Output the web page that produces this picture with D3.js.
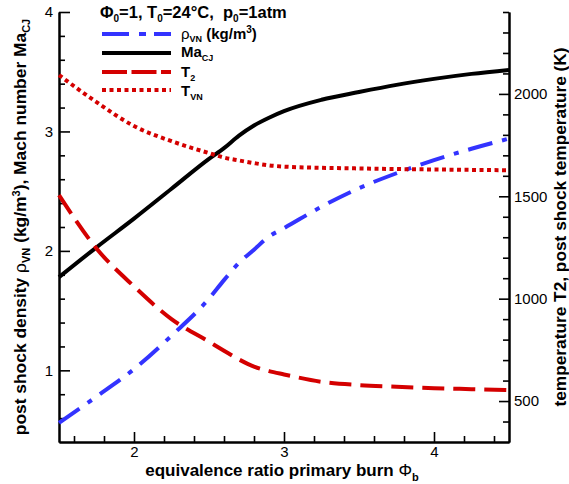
<!DOCTYPE html>
<html>
<head>
<meta charset="utf-8">
<script src="https://cdn.jsdelivr.net/npm/d3@7"></script>
<style>
  body { margin: 0; background: #fff; }
  svg { display: block; }
  text { font-family: "Liberation Sans", Arial, sans-serif; }
</style>
</head>
<body>
<svg id="chart" width="569" height="484"></svg>
<script>
// ---- data ----
const phi   = [1.5, 1.75, 2.0, 2.25, 2.5, 2.6, 2.7, 2.8, 2.9, 3.0, 3.25, 3.5, 3.75, 4.0, 4.25, 4.5];
const maCJ  = [1.78, 2.03, 2.27, 2.52, 2.77, 2.86, 2.965, 3.05, 3.115, 3.17, 3.265, 3.33, 3.39, 3.44, 3.482, 3.515];
const rhoVN = [0.56, 0.78, 1.01, 1.29, 1.60, 1.755, 1.90, 2.01, 2.12, 2.19, 2.37, 2.525, 2.65, 2.76, 2.855, 2.94];
const T2    = [1506, 1245, 1060, 900, 790, 746, 703, 668, 646, 630, 594, 578, 570, 563, 558, 553];
const TVN   = [2092, 1960, 1843, 1769, 1711, 1689, 1675, 1662, 1651, 1645, 1639, 1636, 1633, 1631, 1629, 1627];

const xMajor = [2, 3, 4];
const xMinor = [1.6, 1.8, 2.2, 2.4, 2.6, 2.8, 3.2, 3.4, 3.6, 3.8, 4.2, 4.4];
const yLMajor = [1, 2, 3, 4];
const yLMinor = [0.6, 0.8, 1.2, 1.4, 1.6, 1.8, 2.2, 2.4, 2.6, 2.8, 3.2, 3.4, 3.6, 3.8];
const yRMajor = [500, 1000, 1500, 2000];
const yRMinor = [400, 600, 700, 800, 900, 1100, 1200, 1300, 1400, 1600, 1700, 1800, 1900, 2100, 2200, 2300, 2400];

// ---- layout ----
const L = 59, R = 509, T = 12, B = 442;
const x  = d3.scaleLinear().domain([1.5, 4.5]).range([L, R]);
const yL = d3.scaleLinear().domain([0.4, 4]).range([B, T]);
const yR = d3.scaleLinear().domain([300, 2400]).range([B, T]);

const svg = d3.select("#chart");
const RED = "#d40000", BLUE = "#3333ff";

function styleAxis(g) {
  g.selectAll("path.domain").attr("stroke", "#000").attr("stroke-width", 2);
  g.selectAll(".tick line").attr("stroke", "#000").attr("stroke-width", 1.6);
  g.selectAll(".tick text").attr("fill", "#000").style("font-size", "15px")
    .style("font-family", "'Liberation Sans', Arial, sans-serif");
}

// bottom axis
svg.append("g").attr("transform", `translate(0,${B})`)
  .call(d3.axisBottom(x).tickValues(xMinor).tickSizeInner(-6).tickSizeOuter(0).tickFormat(""))
  .call(styleAxis);
svg.append("g").attr("transform", `translate(0,${B})`)
  .call(d3.axisBottom(x).tickValues(xMajor).tickSizeInner(-10).tickSizeOuter(0).tickPadding(4).tickFormat(d3.format("d")))
  .call(styleAxis);

// left axis
svg.append("g").attr("transform", `translate(${L},0)`)
  .call(d3.axisLeft(yL).tickValues(yLMinor).tickSizeInner(-6).tickSizeOuter(0).tickFormat(""))
  .call(styleAxis);
svg.append("g").attr("transform", `translate(${L},0)`)
  .call(d3.axisLeft(yL).tickValues(yLMajor).tickSizeInner(-11).tickSizeOuter(0).tickPadding(6).tickFormat(d3.format("d")))
  .call(styleAxis);

// right axis
svg.append("g").attr("transform", `translate(${R},0)`)
  .call(d3.axisRight(yR).tickValues(yRMinor).tickSizeInner(-6).tickSizeOuter(0).tickFormat(""))
  .call(styleAxis);
svg.append("g").attr("transform", `translate(${R},0)`)
  .call(d3.axisRight(yR).tickValues(yRMajor).tickSizeInner(-10).tickSizeOuter(0).tickPadding(5).tickFormat(d3.format("d")))
  .call(styleAxis);

// ---- lines ----
const series = [
  { vals: rhoVN, y: yL, color: BLUE,  dash: "25,10,5,10", width: 4 },
  { vals: maCJ,  y: yL, color: "#000", dash: null,        width: 4 },
  { vals: T2,    y: yR, color: RED,   dash: "22,9",       width: 4 },
  { vals: TVN,   y: yR, color: RED,   dash: "4,3.5",      width: 4 }
];
const plot = svg.append("g");
series.forEach(s => {
  const line = d3.line().x((d, i) => x(phi[i])).y(d => s.y(d)).curve(d3.curveMonotoneX);
  plot.append("path").datum(s.vals)
    .attr("d", line).attr("fill", "none")
    .attr("stroke", s.color).attr("stroke-width", s.width)
    .attr("stroke-dasharray", s.dash);
});

// ---- legend ----
const leg = svg.append("g").style("font-weight", "bold").style("font-size", "15px");
const hdr = leg.append("text").attr("x", 100).attr("y", 18)
  .style("font-size", "16.5px").style("white-space", "pre").attr("xml:space", "preserve");
hdr.append("tspan").text("Φ");
hdr.append("tspan").attr("dy", 4).style("font-size", "10px").text("0");
hdr.append("tspan").attr("dy", -4).text("=1, T");
hdr.append("tspan").attr("dy", 4).style("font-size", "10px").text("0");
hdr.append("tspan").attr("dy", -4).text("=24°C,\u00a0 p");
hdr.append("tspan").attr("dy", 4).style("font-size", "10px").text("0");
hdr.append("tspan").attr("dy", -4).text("=1atm");

const legRows = [
  { y: 34, s: series[0], legDash: "27,10,7,8" },
  { y: 53, s: series[1], legDash: null },
  { y: 72, s: series[2], legDash: "25,4.5" },
  { y: 90, s: series[3], legDash: "4,3.5" }
];
legRows.forEach(r => {
  leg.append("line").attr("x1", 102).attr("x2", 171).attr("y1", r.y).attr("y2", r.y)
    .attr("stroke", r.s.color).attr("stroke-width", r.s.width).attr("stroke-dasharray", r.legDash);
});
const l1 = leg.append("text").attr("x", 181).attr("y", 39);
l1.append("tspan").style("font-weight", "normal").text("ρ");
l1.append("tspan").attr("dy", 3).style("font-size", "9px").text("VN");
l1.append("tspan").attr("dy", -3).text(" (kg/m");
l1.append("tspan").attr("dy", -6).style("font-size", "10px").text("3");
l1.append("tspan").attr("dy", 6).text(")");
const l2 = leg.append("text").attr("x", 181).attr("y", 57);
l2.append("tspan").text("Ma");
l2.append("tspan").attr("dy", 4).style("font-size", "9px").text("CJ");
const l3 = leg.append("text").attr("x", 181).attr("y", 77);
l3.append("tspan").text("T");
l3.append("tspan").attr("dy", 4).style("font-size", "9px").text("2");
const l4 = leg.append("text").attr("x", 181).attr("y", 96);
l4.append("tspan").text("T");
l4.append("tspan").attr("dy", 4).style("font-size", "9px").text("VN");

// ---- axis titles ----
const xt = svg.append("text").attr("x", 282).attr("y", 476)
  .attr("text-anchor", "middle").style("font-weight", "bold").style("font-size", "17px");
xt.append("tspan").text("equivalence ratio primary burn ");
xt.append("tspan").style("font-weight", "normal").text("Φ");
xt.append("tspan").attr("dy", 5).style("font-size", "11px").text("b");

const ylt = svg.append("text").attr("transform", `translate(26,${(T + B) / 2}) rotate(-90)`)
  .attr("text-anchor", "middle").style("font-weight", "bold").style("font-size", "17.4px");
ylt.append("tspan").text("post shock density ");
ylt.append("tspan").style("font-weight", "normal").text("ρ");
ylt.append("tspan").attr("dy", 4).style("font-size", "11px").text("VN");
ylt.append("tspan").attr("dy", -4).text(" (kg/m");
ylt.append("tspan").attr("dy", -6).style("font-size", "11px").text("3");
ylt.append("tspan").attr("dy", 6).text("), Mach number Ma");
ylt.append("tspan").attr("dy", 4).style("font-size", "11px").text("CJ");

svg.append("text").attr("transform", `translate(566,${(T + B) / 2}) rotate(-90)`)
  .attr("text-anchor", "middle").style("font-weight", "bold").style("font-size", "17.3px")
  .text("temperature T2, post shock temperature (K)");
</script>
</body>
</html>
